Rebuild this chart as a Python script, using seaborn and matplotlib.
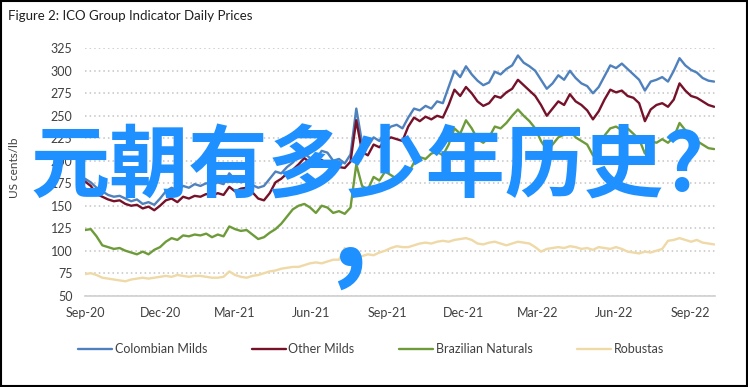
import pandas as pd
import seaborn as sns
import matplotlib.pyplot as plt
import matplotlib.dates as mdates
from matplotlib.patches import Rectangle

# weekly readings, Sep 2020 - Sep 2022 (US cents/lb)
colombian = [180, 176, 170, 166, 162, 160, 161, 158, 155, 157, 152, 154, 151, 158, 166, 170, 167, 172, 170, 174,
             172, 175, 173, 176, 174, 186, 179, 176, 178, 173, 170, 172, 180, 188, 186, 193, 198, 205, 208, 203,
             201, 211, 209, 200, 202, 197, 207, 258, 220, 216, 226, 222, 232, 238, 240, 236, 248, 258, 256, 261,
             258, 266, 264, 282, 300, 293, 305, 296, 289, 284, 287, 299, 296, 302, 306, 317, 309, 305, 300, 290,
             280, 286, 295, 290, 300, 292, 286, 283, 275, 282, 294, 306, 303, 308, 302, 296, 290, 278, 288, 290,
             293, 288, 300, 314, 306, 301, 298, 292, 289, 288]
other = [177, 172, 163, 160, 157, 155, 156, 152, 150, 151, 147, 149, 145, 150, 156, 158, 154, 160, 158, 161,
         160, 163, 161, 164, 162, 171, 166, 169, 170, 165, 158, 156, 164, 176, 180, 186, 190, 196, 203, 198,
         194, 201, 196, 190, 193, 192, 199, 245, 210, 206, 218, 215, 222, 226, 224, 222, 238, 248, 244, 249,
         246, 250, 248, 262, 279, 272, 282, 275, 266, 261, 264, 272, 270, 276, 280, 290, 284, 278, 272, 262,
         250, 258, 266, 262, 274, 266, 262, 256, 246, 255, 268, 279, 276, 278, 272, 270, 264, 244, 257, 262,
         264, 260, 268, 286, 278, 272, 270, 266, 262, 260]
brazilian = [123, 124, 116, 106, 104, 102, 103, 100, 98, 96, 99, 96, 101, 104, 110, 114, 112, 117, 116, 118,
             117, 119, 115, 118, 116, 127, 124, 122, 123, 118, 113, 115, 120, 124, 130, 138, 146, 150, 152, 148,
             142, 150, 148, 142, 144, 141, 148, 196, 172, 168, 182, 178, 188, 184, 180, 179, 186, 198, 204, 202,
             208, 210, 206, 218, 236, 230, 245, 236, 224, 220, 226, 238, 236, 242, 250, 257, 250, 244, 236, 222,
             212, 218, 226, 229, 234, 226, 222, 218, 206, 214, 228, 236, 238, 234, 236, 230, 224, 208, 222, 220,
             224, 220, 226, 242, 234, 226, 222, 218, 214, 213]
robustas = [74, 75, 73, 70, 69, 68, 67, 66, 68, 69, 70, 69, 70, 71, 72, 71, 73, 72, 71, 72,
            72, 71, 70, 70, 71, 77, 73, 71, 70, 72, 73, 75, 77, 78, 80, 81, 82, 82, 84, 86,
            87, 86, 88, 90, 90, 103, 93, 91, 94, 96, 95, 98, 100, 103, 105, 104, 104, 106, 108, 109,
            108, 110, 111, 110, 112, 113, 114, 112, 108, 107, 109, 110, 108, 106, 108, 110, 109, 108, 104, 99,
            102, 103, 104, 103, 105, 104, 102, 103, 101, 104, 103, 102, 104, 102, 99, 98, 97, 99, 98, 100,
            102, 111, 112, 114, 112, 110, 112, 109, 108, 107]

namen = ['Colombian Milds', 'Other Milds', 'Brazilian Naturals', 'Robustas']
kolory = {'Colombian Milds': '#4F81BD', 'Other Milds': '#76112A',
          'Brazilian Naturals': '#6E9B3A', 'Robustas': '#EFD9A6'}

daty = pd.date_range('2020-09-01', '2022-09-30', periods=len(colombian))
dane = pd.DataFrame({'Data': daty, 'Colombian Milds': colombian, 'Other Milds': other,
                     'Brazilian Naturals': brazilian, 'Robustas': robustas})
dane = dane.melt(id_vars='Data', var_name='Seria', value_name='Cena')

sns.set_style('white')
plt.rcParams['font.family'] = ['Lato', 'DejaVu Sans']

f = plt.figure(figsize=(7.48, 3.87), dpi=100)
ax1 = f.add_axes([85/748, 1-295.7/387, 630/748, 247.4/387])

sns.lineplot(data=dane, x='Data', y='Cena', hue='Seria', hue_order=namen, palette=kolory,
             linewidth=1.7, ax=ax1)

ax1.set(xlabel=None, ylabel=None)
ax1.set_ylim(50, 325)
ax1.set_yticks(range(50, 326, 25))
ax1.set_xlim(pd.Timestamp('2020-09-01'), pd.Timestamp('2022-10-01'))
ax1.xaxis.set_major_locator(mdates.MonthLocator(bymonth=[3, 6, 9, 12]))
ax1.xaxis.set_major_formatter(mdates.DateFormatter('%b-%y'))
ax1.yaxis.grid(True, linestyle=(0, (1, 2)), color='#C4C4C4', linewidth=1.1)
ax1.set_axisbelow(True)
for s in ['top', 'right', 'left']:
    ax1.spines[s].set_visible(False)
ax1.spines['bottom'].set_color('#D0D0D0')
ax1.spines['bottom'].set_linewidth(1.2)
ax1.tick_params(axis='both', length=0, labelsize=9, labelcolor='#404040')
ax1.tick_params(axis='x', pad=8)
ax1.tick_params(axis='y', pad=9)

sns.move_legend(ax1, 'center', bbox_to_anchor=(0.496, 0.098), bbox_transform=f.transFigure,
                ncol=4, frameon=False, title=None, fontsize=9, handlelength=2.7,
                handletextpad=0.2, columnspacing=3.6)
for t in ax1.get_legend().get_texts():
    t.set_color('#404040')

f.text(8/748, 1-16/387, 'Figure 2: ICO Group Indicator Daily Prices', ha='left', va='center',
       fontsize=9.5, color='#202020')
f.text(15/748, 1-168/387, 'US cents/lb', rotation='vertical', ha='center', va='center',
       fontsize=8.5, color='#404040')

# nakladka tekstowa
f.text(367/748, 1-168/387, '元朝有多少年历史?', ha='center', va='center', fontsize=57,
       color='#1E90FF', family=['Noto Sans CJK SC', 'DejaVu Sans'], weight='bold')
f.text(349/748, 1-234/387, ',', ha='center', va='center', fontsize=80,
       color='#1E90FF', family=['Noto Sans CJK SC', 'DejaVu Sans'], weight='bold')

f.add_artist(Rectangle((0.001, 0.002), 0.997, 0.996, transform=f.transFigure, fill=False,
                       edgecolor='black', linewidth=1.5))

f.savefig('out.png', dpi=100)
